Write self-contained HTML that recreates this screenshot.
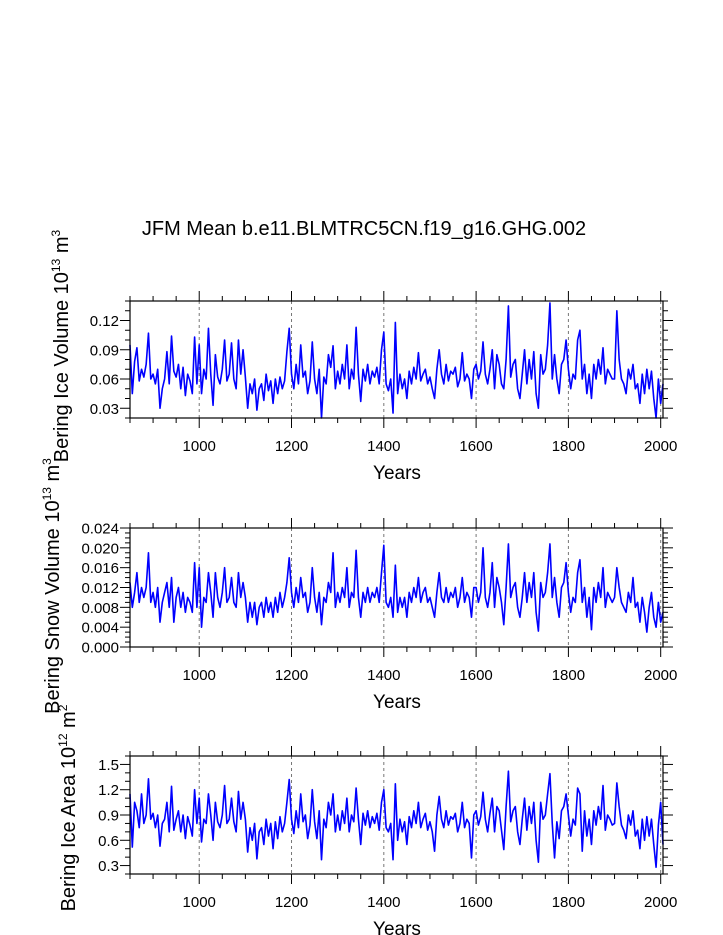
<!DOCTYPE html>
<html><head><meta charset="utf-8">
<style>
html,body{margin:0;padding:0;background:#fff;}
svg{display:block;font-family:"Liberation Sans",Arial,sans-serif;}
</style></head>
<body>
<svg id="chart" width="723" height="935" viewBox="0 0 723 935" xmlns="http://www.w3.org/2000/svg">
<text x="364" y="235" font-size="20" text-anchor="middle">JFM Mean b.e11.BLMTRC5CN.f19_g16.GHG.002</text>
</svg>
<script>
const startYear = 850;
const yearStep = 5;
const xTicks = [1000, 1200, 1400, 1600, 1800, 2000];
const iceVolume = [
0.095,0.045,0.078,0.092,0.058,0.070,0.062,0.075,0.107,0.060,
0.065,0.055,0.070,0.030,0.050,0.060,0.088,0.055,0.104,0.068,
0.062,0.075,0.050,0.072,0.043,0.065,0.058,0.045,0.103,0.055,
0.095,0.045,0.070,0.060,0.112,0.065,0.033,0.085,0.062,0.055,
0.070,0.100,0.058,0.065,0.097,0.060,0.050,0.100,0.065,0.090,
0.062,0.030,0.055,0.045,0.060,0.028,0.050,0.055,0.038,0.065,
0.048,0.058,0.035,0.060,0.045,0.062,0.050,0.058,0.088,0.112,
0.065,0.050,0.075,0.055,0.095,0.062,0.068,0.045,0.058,0.098,
0.060,0.045,0.070,0.020,0.062,0.055,0.085,0.072,0.094,0.050,
0.068,0.055,0.075,0.060,0.095,0.050,0.070,0.060,0.113,0.065,
0.037,0.070,0.058,0.075,0.055,0.068,0.062,0.072,0.055,0.090,
0.108,0.055,0.048,0.060,0.025,0.118,0.045,0.065,0.050,0.060,
0.040,0.068,0.055,0.072,0.060,0.087,0.058,0.065,0.070,0.055,
0.062,0.050,0.040,0.070,0.090,0.065,0.055,0.075,0.058,0.068,
0.065,0.072,0.052,0.060,0.087,0.058,0.065,0.060,0.040,0.070,
0.075,0.060,0.068,0.098,0.065,0.055,0.070,0.090,0.050,0.085,
0.075,0.055,0.050,0.080,0.135,0.062,0.075,0.080,0.050,0.040,
0.065,0.090,0.055,0.080,0.060,0.088,0.045,0.030,0.085,0.065,
0.070,0.095,0.138,0.060,0.085,0.060,0.045,0.075,0.080,0.100,
0.070,0.050,0.065,0.060,0.100,0.110,0.060,0.075,0.045,0.065,
0.040,0.075,0.060,0.080,0.065,0.092,0.055,0.070,0.065,0.060,
0.060,0.130,0.080,0.060,0.055,0.045,0.070,0.060,0.075,0.050,
0.055,0.035,0.065,0.045,0.070,0.050,0.068,0.040,0.020,0.060,
0.035,0.055];
const snowVolume = [
0.013,0.008,0.011,0.015,0.009,0.012,0.010,0.012,0.019,0.009,
0.011,0.008,0.012,0.005,0.009,0.011,0.013,0.008,0.014,0.005,
0.010,0.012,0.008,0.011,0.007,0.010,0.009,0.007,0.017,0.008,
0.016,0.004,0.010,0.009,0.015,0.011,0.006,0.015,0.010,0.008,
0.011,0.016,0.009,0.010,0.014,0.009,0.008,0.015,0.010,0.013,
0.010,0.005,0.009,0.006,0.009,0.0045,0.008,0.009,0.006,0.010,
0.007,0.009,0.006,0.010,0.007,0.011,0.008,0.010,0.013,0.018,
0.011,0.008,0.012,0.009,0.014,0.010,0.011,0.007,0.009,0.016,
0.010,0.007,0.011,0.0045,0.010,0.009,0.013,0.011,0.019,0.008,
0.011,0.009,0.012,0.010,0.016,0.008,0.011,0.010,0.0195,0.010,
0.006,0.011,0.009,0.012,0.009,0.011,0.010,0.012,0.009,0.015,
0.0205,0.009,0.008,0.010,0.006,0.0165,0.007,0.010,0.008,0.010,
0.006,0.011,0.009,0.012,0.010,0.014,0.009,0.011,0.012,0.009,
0.010,0.008,0.006,0.011,0.015,0.010,0.009,0.012,0.009,0.011,
0.010,0.012,0.008,0.010,0.014,0.009,0.011,0.010,0.006,0.012,
0.012,0.009,0.011,0.020,0.010,0.008,0.011,0.017,0.008,0.014,
0.012,0.009,0.0045,0.012,0.0208,0.010,0.012,0.013,0.008,0.006,
0.010,0.015,0.009,0.013,0.010,0.015,0.007,0.0032,0.013,0.010,
0.011,0.015,0.0208,0.010,0.014,0.009,0.006,0.012,0.013,0.017,
0.011,0.007,0.010,0.009,0.015,0.0176,0.009,0.012,0.006,0.010,
0.0035,0.012,0.009,0.013,0.010,0.016,0.008,0.011,0.010,0.009,
0.010,0.016,0.012,0.009,0.008,0.007,0.011,0.009,0.014,0.008,
0.009,0.005,0.010,0.007,0.003,0.008,0.011,0.006,0.004,0.009,
0.005,0.007];
const iceArea = [
1.15,0.52,1.05,0.95,0.75,1.15,0.80,0.90,1.33,0.85,
0.92,0.75,0.90,0.53,0.80,0.85,1.05,0.70,1.24,0.72,
0.85,0.95,0.70,0.90,0.62,0.88,0.78,0.65,1.20,0.80,
1.10,0.58,0.85,0.80,1.15,0.90,0.60,1.05,0.82,0.75,
0.90,1.25,0.80,0.85,1.10,0.82,0.70,1.18,0.85,1.05,
0.85,0.46,0.75,0.60,0.80,0.38,0.70,0.75,0.55,0.85,
0.65,0.80,0.50,0.82,0.62,0.88,0.70,0.80,1.05,1.32,
0.85,0.68,0.95,0.75,1.15,0.82,0.90,0.62,0.78,1.20,
0.82,0.62,0.95,0.37,0.85,0.75,1.05,0.90,1.15,0.70,
0.90,0.72,0.95,0.80,1.10,0.70,0.90,0.82,1.22,0.85,
0.55,0.92,0.78,0.95,0.75,0.88,0.80,0.92,0.72,1.05,
1.20,0.75,0.70,0.80,0.37,1.27,0.60,0.85,0.70,0.82,
0.55,0.88,0.75,0.95,0.80,1.05,0.75,0.85,0.92,0.72,
0.82,0.70,0.47,0.90,1.12,0.85,0.75,0.95,0.78,0.88,
0.85,0.92,0.70,0.80,1.05,0.75,0.85,0.80,0.39,0.90,
0.95,0.78,0.88,1.17,0.85,0.70,0.92,1.10,0.70,1.00,
0.95,0.72,0.49,1.00,1.42,0.82,0.95,1.00,0.70,0.55,
0.85,1.10,0.72,1.00,0.80,1.05,0.60,0.34,1.05,0.85,
0.90,1.15,1.39,0.80,0.39,0.82,0.62,0.95,1.00,1.15,
0.90,0.65,0.85,0.78,1.22,1.15,0.47,0.95,0.65,0.85,
0.55,0.95,0.78,1.00,0.85,1.25,0.72,0.90,0.85,0.78,
0.80,1.28,1.00,0.78,0.72,0.62,0.90,0.78,0.95,0.65,
0.72,0.50,0.85,0.60,0.88,0.65,0.85,0.55,0.28,0.78,
1.05,0.55];
const iceVolTicks = ["0.03","0.06","0.09","0.12"];
const snowTicks = ["0.000","0.004","0.008","0.012","0.016","0.020","0.024"];
const areaTicks = ["0.3","0.6","0.9","1.2","1.5"];

const NS = "http://www.w3.org/2000/svg";
const svg = document.getElementById('chart');
function mk(tag, attrs, parent){
  const e = document.createElementNS(NS, tag);
  for (const k in attrs) e.setAttribute(k, attrs[k]);
  (parent||svg).appendChild(e);
  return e;
}
const X0 = 130, X1 = 663, XMIN = 850, XMAX = 2005;
function xScale(yr){ return X0 + (yr - XMIN) * (X1 - X0) / (XMAX - XMIN); }

function panel(cfg){
  const g = mk('g', {});
  
  
  const yScale = v => cfg.bottom - (v - cfg.ymin) * (cfg.bottom - cfg.top) / (cfg.ymax - cfg.ymin);
  xTicks.forEach(t => {
    const l = mk('line', {x1:xScale(t), x2:xScale(t), y1:cfg.top, y2:cfg.bottom, stroke:'#777', 'stroke-width':1, 'stroke-dasharray':'3,3'}, g);
    
    
  });
  let d = '';
  cfg.data.forEach((v, i) => {
    const yr = startYear + i * yearStep;
    d += (i ? 'L' : 'M') + xScale(Math.min(yr, XMAX)).toFixed(2) + ',' + yScale(v).toFixed(2);
  });
  const p = mk('path', {d:d, fill:'none', stroke:'#0000ff', 'stroke-width':1.6, 'stroke-linejoin':'round'}, g);
  
  
  const f = mk('rect', {x:X0, y:cfg.top, width:X1-X0, height:cfg.bottom-cfg.top, fill:'none', stroke:'#000', 'stroke-width':1.2}, g);
  
  
  for (let yr = 850; yr <= 2000; yr += 50) {
    const major = yr % 200 === 0;
    const L = major ? 10 : 5;
    const x = xScale(yr);
    mk('line', {x1:x, x2:x, y1:cfg.bottom, y2:cfg.bottom+L, stroke:'#000', 'stroke-width':1}, g);
    mk('line', {x1:x, x2:x, y1:cfg.top, y2:cfg.top-L, stroke:'#000', 'stroke-width':1}, g);
  }
  xTicks.forEach(t => {
    const tx = mk('text', {x:xScale(t), y:cfg.bottom+33, 'font-size':15, 'text-anchor':'middle'}, g);
    
    
    tx.textContent = t;
  });
  const xt = mk('text', {x:397, y:cfg.bottom+61, 'font-size':19, 'text-anchor':'middle'}, g);
  
  
  xt.textContent = 'Years';
  const nMinor = Math.round((cfg.ymax - cfg.ymin) / cfg.minor);
  for (let k = 0; k <= nMinor; k++) {
    const v = cfg.ymin + k * cfg.minor;
    const y = yScale(v);
    const isMajor = cfg.ticks.some(t => Math.abs(parseFloat(t) - v) < cfg.minor / 10);
    const L = isMajor ? 10 : 5;
    mk('line', {x1:X0, x2:X0-L, y1:y, y2:y, stroke:'#000', 'stroke-width':1}, g);
    mk('line', {x1:X1, x2:X1+L, y1:y, y2:y, stroke:'#000', 'stroke-width':1}, g);
  }
  cfg.ticks.forEach(t => {
    const ty = mk('text', {x:X0-11, y:yScale(parseFloat(t))+5.5, 'font-size':15, 'text-anchor':'end'}, g);
    
    
    ty.textContent = t;
  });
  const yt = mk('text', {x:0, y:0, 'font-size':20, 'text-anchor':'middle', transform:'translate(' + cfg.labelX + ',' + cfg.labelY + ') rotate(-90)'}, g);
  
  
  yt.innerHTML = cfg.label + ' 10<tspan dy="-8" font-size="12">' + cfg.exp + '</tspan><tspan dy="8"> m</tspan><tspan dy="-8" font-size="12">' + cfg.unitExp + '</tspan>';
}

panel({name:'ice-volume-panel', top:301, bottom:418, ymin:0.02, ymax:0.14, minor:0.01, ticks:iceVolTicks, data:iceVolume, label:'Bering Ice Volume', exp:'13', unitExp:'3', labelX:68, labelY:346});
panel({name:'snow-volume-panel', top:528, bottom:647, ymin:0, ymax:0.024, minor:0.001, ticks:snowTicks, data:snowVolume, label:'Bering Snow Volume', exp:'13', unitExp:'3', labelX:59, labelY:586});
panel({name:'ice-area-panel', top:756, bottom:874, ymin:0.2, ymax:1.6, minor:0.1, ticks:areaTicks, data:iceArea, label:'Bering Ice Area', exp:'12', unitExp:'2', labelX:75, labelY:808});
</script>
</body></html>
